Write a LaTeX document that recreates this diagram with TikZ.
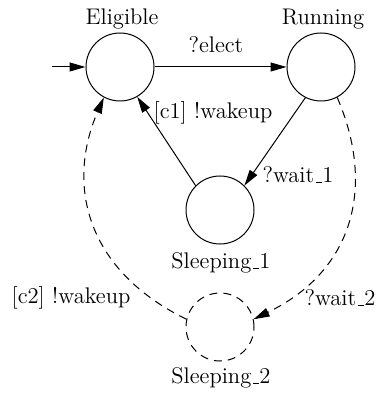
\documentclass[tikz,border=0pt]{standalone}
\usetikzlibrary{arrows.meta}
\newcommand\mybar{\leavevmode\kern.06em\vbox{\hrule width.3em height 0.4pt}}
\begin{document}
\begin{tikzpicture}[x=0.5pt,y=-0.5pt,
  every node/.style={font=\fontsize{11.3}{13}\selectfont},
  state/.style={draw, circle, line width=0.5pt, minimum size=34pt, inner sep=0pt},
  dstate/.style={state, dash pattern=on 4pt off 3pt},
  conn/.style={line width=0.5pt, -{Triangle[length=8pt,width=4.5pt]}},
  dconn/.style={conn, dash pattern=on 4pt off 3pt},
  lbl/.style={inner sep=0pt}]
\useasboundingbox (0,0) rectangle (382,394);
\node[state] (Eligible) at (120,67) {};
\node[state] (Running) at (321,67) {};
\node[state] (Sleeping1) at (220,210) {};
\node[dstate] (Sleeping2) at (220,327) {};
\node[lbl] (tE) at (122,19) {Eligible};
\node[lbl] (tR) at (323,19) {Running};
\node[lbl] (tS1) at (221,263) {Sleeping\mybar 1};
\node[lbl] (tS2) at (221,378) {Sleeping\mybar 2};
\coordinate (init) at (52,67);
\draw[conn] (init) -- (Eligible.west);
\draw[conn] (Eligible.east) -- (Running.west);
\draw[conn] (Running.-117) -- (Sleeping1.45);
\draw[conn] (Sleeping1.135) -- (Eligible.-60);
\draw[dconn] (Running.-62) .. controls (375,185) and (355,270) .. (Sleeping2.13);
\draw[dconn] (Sleeping2.167) .. controls (86,270) and (66,185) .. (Eligible.-118);
\node[lbl] (lelect) at (216,45) {?elect};
\node[lbl] (lc1) at (213,113) {[c1] !wakeup};
\node[lbl] (lw1) at (298,175) {?wait\mybar 1};
\node[lbl] (lc2) at (71,298) {[c2] !wakeup};
\node[lbl] (lw2) at (340,298) {?wait\mybar 2};
\end{tikzpicture}
\end{document}
